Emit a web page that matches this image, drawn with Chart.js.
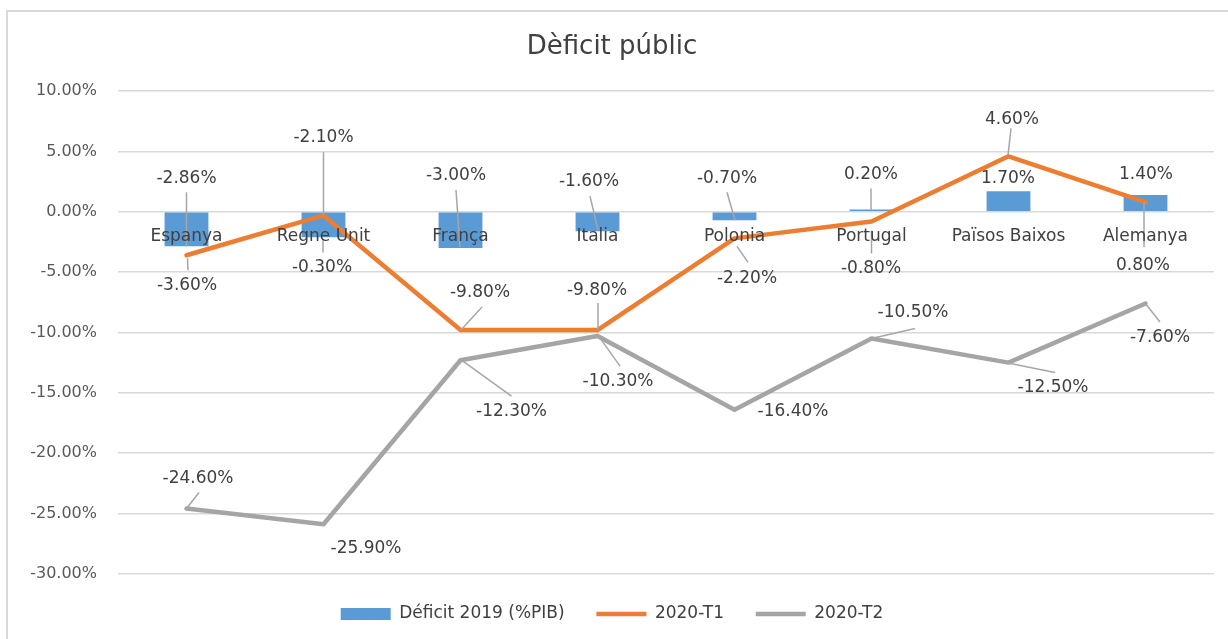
<!DOCTYPE html>
<html>
<head>
<meta charset="utf-8">
<script src="https://cdn.jsdelivr.net/npm/chart.js@4.4.1/dist/chart.umd.min.js"></script>
<style>
  html, body { margin: 0; padding: 0; background: #ffffff; overflow: hidden; width: 1228px; height: 639px; }
  #wrap { position: absolute; left: 0; top: 0; width: 1228px; height: 639px; }
</style>
</head>
<body>
<div id="wrap"><canvas id="c" width="1228" height="639"></canvas></div>
<script>
// ---- data ----
const categories = ['Espanya', 'Regne Unit', 'França', 'Italia', 'Polonia', 'Portugal', 'Països Baixos', 'Alemanya'];
const deficit2019 = [-2.86, -2.10, -3.00, -1.60, -0.70, 0.20, 1.70, 1.40];
const t1_2020 = [-3.60, -0.30, -9.80, -9.80, -2.20, -0.80, 4.60, 0.80];
const t2_2020 = [-24.60, -25.90, -12.30, -10.30, -16.40, -10.50, -12.50, -7.60];
const seriesNames = ['Déficit 2019 (%PIB)', '2020-T1', '2020-T2'];
const yMin = -30, yMax = 10, yStep = 5;

// ---- label layout (offsets relative to each mark's anchor, Excel-style) ----
const labelOffsets = [
  [[0,-68],[0,-100],[-4.5,-72],[-8.5,-50],[-7.5,-42],[-0.5,-35],[-0.5,-13],[0.5,-20]],
  [[0.5,30],[-1.5,52],[19.5,-37],[-0.5,-39],[12.5,40],[-0.5,47],[3.5,-37],[-2.5,63]],
  [[11.5,-30],[42.5,24],[51,51.5],[20.5,45.5],[58.5,2],[41.5,-25.5],[44.5,24.5],[14.5,34.5]]
];
const leaderLines = [
  [[0,-54,0,0],[0,-85,0,-22],[-4.5,-58,-0.5,-1],[-7.5,-35,0.5,-1],[-7.5,-28,0.5,0],[-0.5,-21,-0.5,2],null,null],
  [[1,3,1.5,15],[-0.5,25,-0.5,37],[21.5,-23,0.5,0],[0.5,-27,0.5,0],[2.5,8,13.5,24],[0,9,0,32],[2.5,-28,-0.5,-1],[-1.5,0,-1.5,45]],
  [[12.5,-16,0,0],null,[1,0,51,36],[0.5,-1,22.5,30],null,[0,0,43.5,-10],[-0.5,0.5,46.5,10],[-0.5,-0.5,14.5,18.5]]
];
const seriesValues = [deficit2019, t1_2020, t2_2020];
const fmt = v => v.toFixed(2) + '%';

const frame = {
  id: 'frame',
  beforeDraw(chart) {
    const ctx = chart.ctx;
    ctx.save();
    ctx.fillStyle = '#d9d9d9';
    ctx.fillRect(6, 10, 2, chart.height - 10);
    ctx.fillRect(6, 10, chart.width - 6, 2);
    ctx.restore();
  }
};

const excelLabels = {
  id: 'excelLabels',
  afterDatasetsDraw(chart) {
    const ctx = chart.ctx;
    ctx.save();
    seriesValues.forEach((vals, di) => {
      const meta = chart.getDatasetMeta(di);
      meta.data.forEach((el, i) => {
        const p = el.getProps(['x', 'y'], true);
        const lead = leaderLines[di][i];
        if (lead) {
          ctx.strokeStyle = '#a6a6a6';
          ctx.lineWidth = 1.5;
          ctx.beginPath();
          ctx.moveTo(p.x + lead[0], p.y + lead[1]);
          ctx.lineTo(p.x + lead[2], p.y + lead[3]);
          ctx.stroke();
        }
        const off = labelOffsets[di][i];
        ctx.font = '17px "DejaVu Sans"';
        ctx.fillStyle = '#404040';
        ctx.textAlign = 'center';
        ctx.textBaseline = 'middle';
        ctx.fillText(fmt(vals[i]), p.x + off[0], p.y + off[1]);
      });
    });
    ctx.restore();
  }
};

Chart.defaults.font.family = '"DejaVu Sans", sans-serif';
Chart.defaults.color = '#595959';

new Chart(document.getElementById('c'), {
  type: 'bar',
  data: {
    labels: categories,
    datasets: [
      { type: 'bar', label: seriesNames[0], data: deficit2019, backgroundColor: '#5b9bd5', borderWidth: 0,
        barPercentage: 0.32, categoryPercentage: 1, order: 3, pointStyle: 'rect' },
      { type: 'line', label: seriesNames[1], data: t1_2020, borderColor: '#ed7d31', backgroundColor: '#ed7d31',
        borderWidth: 4.5, pointRadius: 0, borderCapStyle: 'round', borderJoinStyle: 'round', fill: false, tension: 0, order: 2, pointStyle: 'line' },
      { type: 'line', label: seriesNames[2], data: t2_2020, borderColor: '#a5a5a5', backgroundColor: '#a5a5a5',
        borderWidth: 4.5, pointRadius: 0, borderCapStyle: 'round', borderJoinStyle: 'round', fill: false, tension: 0, order: 1, pointStyle: 'line' }
    ]
  },
  options: {
    responsive: false,
    animation: false,
    devicePixelRatio: 1,
    layout: { padding: { left: 10, right: 14, top: 0, bottom: 6.5 } },
    plugins: {
      title: { display: true, text: 'Dèficit públic', color: '#404040', font: { size: 26, weight: 'normal' }, padding: { top: 31.5, bottom: 28.5 } },
      legend: {
        position: 'bottom',
        labels: {
          usePointStyle: true, pointStyleWidth: 50, boxHeight: 12, padding: 31.8,
          color: '#404040', font: { size: 17 },
          sort: (a, b) => a.datasetIndex - b.datasetIndex
        }
      },
      tooltip: { enabled: false }
    },
    scales: {
      x: {
        position: { y: 0 },
        grid: { display: false, drawTicks: false },
        border: { display: false },
        ticks: { color: '#404040', font: { size: 17 }, padding: 15, autoSkip: false, maxRotation: 0, z: 1 }
      },
      y: {
        min: yMin, max: yMax,
        afterFit(scale) { scale.width = 108; },
        grid: { color: '#d9d9d9', lineWidth: 1.5, drawTicks: false },
        border: { display: false },
        ticks: { stepSize: yStep, padding: 21, color: '#595959', font: { size: 16 }, callback: v => fmt(v) }
      }
    }
  },
  plugins: [frame, excelLabels]
});
</script>
</body>
</html>
